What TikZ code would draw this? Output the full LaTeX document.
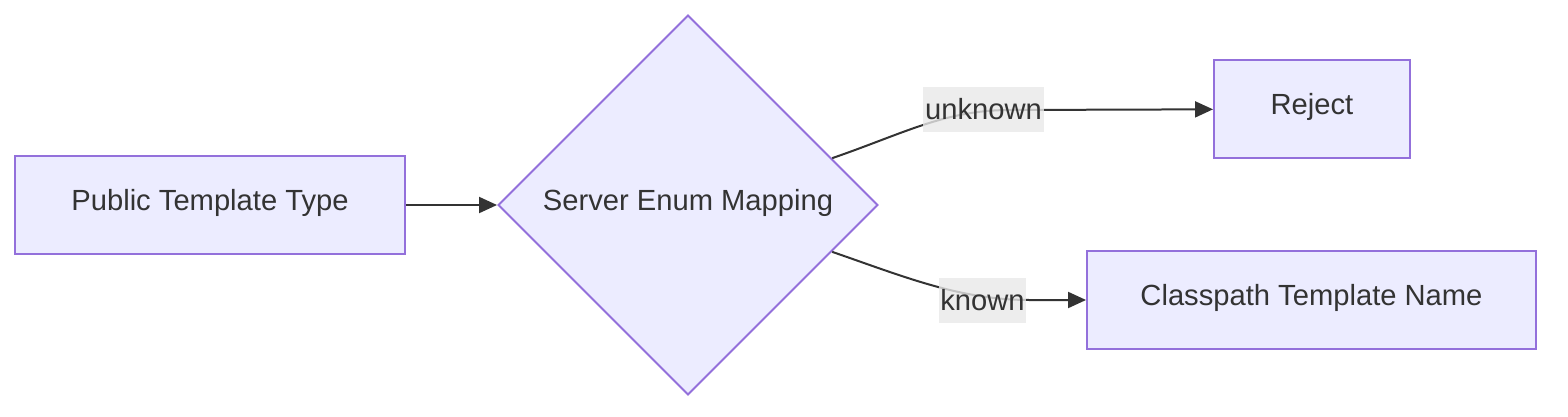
\documentclass[tikz,border=0pt]{standalone}
\usepackage{fontspec}
\setmainfont{Liberation Sans}
\usetikzlibrary{shapes.geometric,arrows.meta,positioning}
\definecolor{mmfill}{HTML}{ECECFF}
\definecolor{mmline}{HTML}{9370DB}
\definecolor{mmtext}{HTML}{333333}
\definecolor{mmlbl}{HTML}{E8E8E8}
\newcommand{\ndh}{1.96cm}
\newcommand{\dmw}{7.6cm}
\newcommand{\lnw}{0.04cm}
\begin{document}
\begin{tikzpicture}[x=0.02cm,y=-0.02cm,font=\fontsize{16.6}{19}\selectfont,text=mmtext,
    box/.style={draw=mmline,fill=mmfill,line width=\lnw,minimum height=\ndh,inner sep=0,
      text height=0.6em,text depth=0em},
    dec/.style={diamond,aspect=1,draw=mmline,fill=mmfill,line width=\lnw,
      minimum width=\dmw,minimum height=\dmw,inner sep=0,text height=0.6em,text depth=0em},
    edge/.style={draw=mmtext,line width=\lnw,-{Triangle[length=0.36cm,width=0.32cm]}},
    lbl/.style={fill=mmlbl,fill opacity=0.8,text opacity=1,inner xsep=1pt,inner ysep=0,
      minimum height=0.9cm}]
  \useasboundingbox (0,0) rectangle (1568,416);

  \node[box,minimum width=7.8cm] (pub) at (210,205) {Public Template Type};
  \node[dec] (map) at (688,205) {Server Enum Mapping};
  \node[box,minimum width=3.92cm] (rej) at (1312,109) {Reject};
  \node[box,minimum width=8.98cm] (cls) at (1311.5,300) {Classpath Template Name};

  \draw[edge] (pub) -- (map);
  \draw[edge] (map.18) .. controls (905,133) and (945,110) .. (1010,110) -- (rej);
  \draw[edge] (map.-18) .. controls (905,277) and (960,300) .. (1030,300) -- (cls);

  \node[lbl] (unk) at (983.5,109.5) {unknown};
  \node[lbl] (kno) at (982.5,300.5) {known};
\end{tikzpicture}
\end{document}
